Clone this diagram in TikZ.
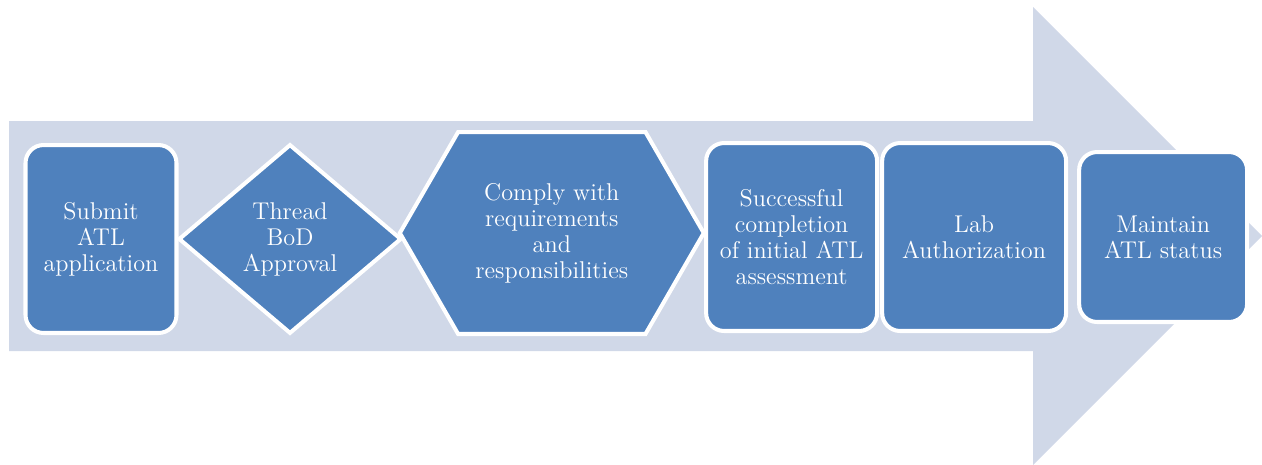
\documentclass[tikz,border=0pt]{standalone}
\usepackage{xcolor}
\usepackage{tikz}
\usetikzlibrary{shapes,shapes.geometric,shapes.symbols,positioning}
\definecolor{stepblue}{HTML}{4F81BD}
\definecolor{flowgray}{HTML}{D0D8E8}

\begin{document}
\begin{tikzpicture}[
      x = 0.02cm, y = -0.02cm,
      node distance = 0.02cm
    ]
    \tikzstyle{step base} = [fill=stepblue, draw=white, line width=2.3pt, text=white,
      align=center, inner sep=0pt, font=\fontsize{13.8}{14.8}\selectfont]
    \tikzstyle{round box} = [step base, rectangle, rounded corners=0.36cm,
      minimum height=3.76cm]
    \tikzstyle{choice box} = [step base, diamond, minimum width=4.46cm, minimum height=3.79cm]
    \tikzstyle{hex box} = [step base, signal, signal to=east and west,
      signal pointer angle=120, minimum width=6.08cm, minimum height=4.04cm]
    \useasboundingbox (0,0) rectangle (1262,464);
    % big background arrow
    \fill[flowgray] (9,121) -- (1033,121) -- (1033,7) -- (1262,236)
      -- (1033,465) -- (1033,351) -- (9,351) -- cycle;
    \node[round box, minimum width=3.02cm] (submit) at (101,239) {Submit\\ATL\\application};
    \node[choice box] (thread) [right=-0.04cm of submit] {Thread\\BoD\\Approval};
    \node[hex box] (comply) [right=-0.12cm of thread, yshift=0.12cm]
      {Comply with\\requirements\\and\\responsibilities};
    \node[round box, minimum width=3.42cm] (success) [right=-0.04cm of comply, yshift=-0.08cm]
      {Successful\\completion\\of initial ATL\\assessment};
    \node[round box, minimum width=3.68cm] (lab) [right=of success] {Lab\\Authorization};
    \node[round box, minimum width=3.36cm, minimum height=3.4cm] (maintain)
      [right=0.18cm of lab] {Maintain\\ATL status};
  \end{tikzpicture}
\end{document}
